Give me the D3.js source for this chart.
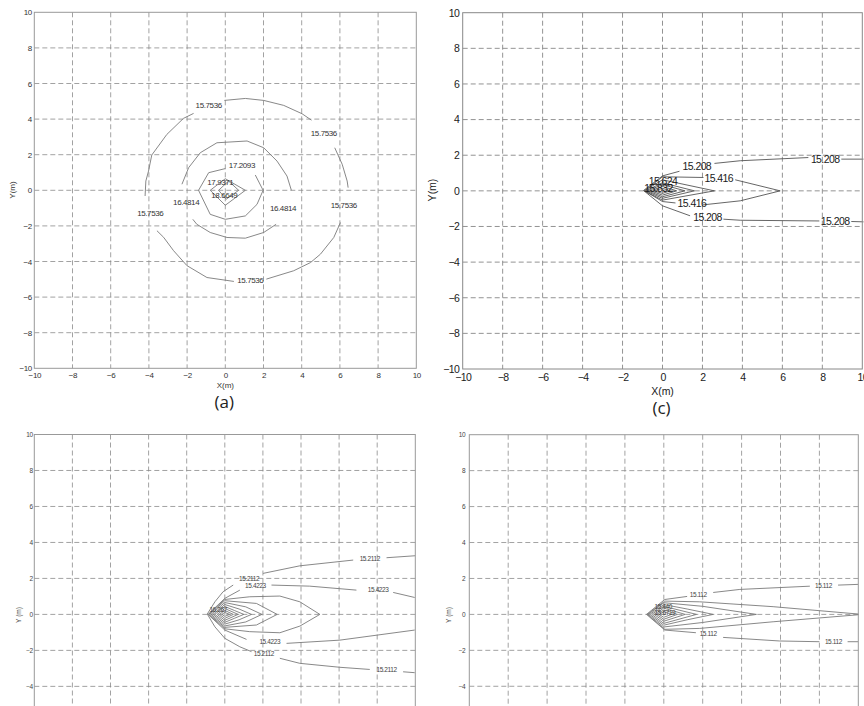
<!DOCTYPE html>
<html>
<head>
<meta charset="utf-8">
<script src="https://d3js.org/d3.v7.min.js"></script>
<style>
  body { margin: 0; background: #fff; }
  svg { display: block; }
  text { font-family: "Liberation Sans", Arial, sans-serif; }
</style>
</head>
<body>
<script>
// tick values shared by all four plots
var tickValues = [-10, -8, -6, -4, -2, 0, 2, 4, 6, 8, 10];

// (a) contour pieces, broken where clabel put its text
var aLines = [
  // 15.7536
  [[-0.05,5.05],[1.05,5.16],[2.01,5.05],[3.06,4.77],[4.02,4.30],[4.51,3.94]],
  [[5.73,2.39],[6.12,1.46],[6.38,0.52],[6.43,0.15]],
  [[6.03,-1.81],[5.68,-2.65],[4.98,-3.59],[4.46,-4.06],[3.58,-4.52],[2.15,-4.99]],
  [[0.45,-5.12],[-0.96,-4.9],[-2.01,-4.23],[-2.71,-3.39],[-3.23,-2.64],[-3.58,-2.27]],
  [[-4.2,-0.32],[-4.16,0.52],[-4.02,1.08],[-3.85,1.98],[-3.06,3.14],[-2.19,4.04],[-1.66,4.32]],
  // 16.4814
  [[-2.27,0.34],[-1.92,1.27],[-1.31,2.11],[-0.44,2.67],[1.14,2.77],[2.01,2.39],[2.71,1.64],[3.23,0.80],[3.46,0]],
  [[2.66,-1.91],[2.01,-2.37],[1.05,-2.69],[0.09,-2.65],[-0.79,-2.37],[-1.49,-1.91],[-1.70,-1.63]],
  // 17.2093
  [[1.57,0.86],[1.98,0],[1.66,-0.79],[1.05,-1.44],[0,-1.63],[-0.79,-1.35],[-1.40,0],[-0.87,0.99],[0,1.22]],
  // 17.9371
  [[0,0.65],[1.05,0],[0,-0.84],[-0.79,0],[0,0.65]],
  // 18.6649
  [[0.17,0.52],[0.7,0],[0.05,-0.5],[-0.35,0],[0.17,0.52]]
];
var aLabels = [
  [-0.87, 4.79, "15.7536"], [5.16, 3.21, "15.7536"], [6.2, -0.82, "15.7536"],
  [1.31, -5.05, "15.7536"], [-3.93, -1.27, "15.7536"],
  [3.02, -1.03, "16.4814"], [-2.05, -0.69, "16.4814"],
  [0.87, 1.40, "17.2093"],
  [-0.26, 0.43, "17.9371"], [-0.05, -0.26, "18.6649"]
];

// (c)
var cLines = [
  // 15.208
  [[10.06,1.78],[8.95,1.78]],
  [[7.3,1.87],[3.89,1.69],[2.6,1.54]],
  [[0.85,1.1],[0,0.84],[-0.95,0.02],[0,-0.84],[1.38,-1.40]],
  [[3.05,-1.59],[3.89,-1.65],[7.85,-1.69]],
  [[9.45,-1.72],[10.06,-1.74]],
  // 15.416
  [[2.0,-0.79],[3.89,-0.56],[5.89,0],[3.64,0.62]],
  [[2.05,0.75],[0,0.79],[-0.9,0],[0,-0.6],[0.65,-0.68]],
  // 15.624
  [[-0.92,0],[0,0.62],[2.6,0],[0,-0.52],[-0.92,0]],
  // 15.832 and inner ones
  [[-0.85,0],[0,0.45],[1.6,0],[0,-0.42],[-0.85,0]],
  [[-0.75,0],[0,0.35],[1.13,0],[0,-0.33],[-0.75,0]],
  [[-0.6,0],[0,0.25],[0.71,0],[0,-0.24],[-0.6,0]],
  [[-0.45,0],[0,0.14],[0.4,0],[0,-0.14],[-0.45,0]]
];
var cLabels = [
  [8.14, 1.78, "15.208"], [1.72, 1.40, "15.208"], [2.25, -1.5, "15.208"], [8.64, -1.69, "15.208"],
  [2.82, 0.69, "15.416"], [1.47, -0.71, "15.416"],
  [0.02, 0.55, "15.624"], [-0.2, 0.12, "15.832"]
];

// (d)
var dLines = [
  // 15.2112
  [[2.01,2.28],[3.94,2.70],[6.74,3.02]],
  [[8.49,3.15],[9.99,3.26]],
  [[0.44,1.63],[-0.09,1.26],[-0.52,0.70],[-0.92,0.02],[-0.52,-0.69],[0,-1.33],[0.79,-1.80],[1.40,-2.07]],
  [[2.89,-2.44],[3.94,-2.72],[6.04,-2.94],[7.61,-3.06]],
  [[9.36,-3.19],[9.97,-3.24]],
  // 15.4223
  [[2.45,1.63],[4.46,1.57],[6.91,1.35]],
  [[8.84,1.22],[9.97,0.94]],
  [[0.79,1.35],[0,0.89],[-0.88,0],[0,-0.87],[1.14,-1.39]],
  [[3.24,-1.61],[6.04,-1.43],[9.97,-0.87]],
  // closed inner levels
  [[-0.85,0],[0,0.83],[1.31,0.98],[2.89,1.02],[3.94,0.70],[4.99,0],[3.94,-0.65],[2.89,-1.02],[1.31,-0.96],[0,-0.8],[-0.85,0]],
  [[-0.8,0],[0,0.76],[1.66,0.61],[2.75,0],[1.66,-0.59],[0,-0.72],[-0.8,0]],
  [[-0.72,0],[0,0.66],[1.1,0.42],[1.95,0],[1.1,-0.42],[0,-0.64],[-0.72,0]],
  [[-0.62,0],[0,0.55],[0.75,0.3],[1.4,0],[0.75,-0.3],[0,-0.54],[-0.62,0]],
  [[-0.52,0],[0,0.44],[0.5,0.22],[1.0,0],[0.5,-0.22],[0,-0.44],[-0.52,0]],
  [[-0.4,0],[0,0.33],[0.7,0],[0,-0.33],[-0.4,0]],
  [[-0.28,0],[0,0.22],[0.45,0],[0,-0.22],[-0.28,0]],
  [[-0.15,0],[0,0.11],[0.25,0],[0,-0.11],[-0.15,0]]
];
var dLabels = [
  [7.61, 3.09, "15.2112"], [1.28, 1.96, "15.2112"], [2.05, -2.2, "15.2112"], [8.49, -3.06, "15.2112"],
  [1.61, 1.57, "15.4223"], [8.05, 1.35, "15.4223"], [2.36, -1.52, "15.4223"],
  [-0.35, 0.24, "16.267"]
];

// bottom right
var eLines = [
  // 15.112
  [[9.99,1.67],[8.96,1.63]],
  [[7.51,1.57],[3.91,1.39],[2.54,1.22]],
  [[1.2,1.0],[0.05,0.83],[-0.89,0],[0.05,-0.87],[1.65,-1.02]],
  [[3.05,-1.28],[5.96,-1.48],[8.0,-1.52]],
  [[9.45,-1.52],[9.99,-1.52]],
  // inner levels
  [[-0.85,0],[0.05,0.74],[1.85,0.70],[5.62,0.43],[10,0.02],[10,-0.02],[5.62,-0.41],[1.85,-0.78],[0.05,-0.83],[-0.85,0]],
  [[-0.8,0],[0,0.65],[2,0.45],[4.76,0],[2,-0.45],[0,-0.7],[-0.8,0]],
  [[-0.72,0],[0,0.55],[1.2,0.3],[2.54,0],[1.2,-0.3],[0,-0.6],[-0.72,0]],
  [[-0.62,0],[0,0.45],[1.68,0],[0,-0.5],[-0.62,0]],
  [[-0.5,0],[0,0.35],[1.1,0],[0,-0.38],[-0.5,0]],
  [[-0.38,0],[0,0.25],[0.7,0],[0,-0.27],[-0.38,0]],
  [[-0.25,0],[0,0.15],[0.4,0],[0,-0.16],[-0.25,0]]
];
var eLabels = [
  [8.21, 1.60, "15.112"], [1.77, 1.09, "15.112"], [2.28, -1.06, "15.112"], [8.72, -1.52, "15.112"],
  [-0.03, 0.42, "15.440"], [0.06, 0.09, "15.6719"]
];

var W = 864, H = 706;
var svg = d3.select("body").append("svg")
  .attr("width", W)
  .attr("height", H);

function drawPanel(p) {
  var g = svg.append("g");
  var x = d3.scaleLinear().domain([-10, 10]).range([p.left, p.right]);
  var y = d3.scaleLinear().domain([-10, 10]).range([p.bottom, p.top]);
  var inner = tickValues.slice(1, -1);

  // dashed grid
  g.selectAll(".vg").data(inner).enter().append("line")
    .attr("x1", function(d) { return x(d); }).attr("x2", function(d) { return x(d); })
    .attr("y1", p.top).attr("y2", p.bottom)
    .attr("stroke", p.grid).attr("stroke-width", 0.8)
    .attr("stroke-dasharray", p.dash);
  g.selectAll(".hg").data(inner).enter().append("line")
    .attr("y1", function(d) { return y(d); }).attr("y2", function(d) { return y(d); })
    .attr("x1", p.left).attr("x2", p.right)
    .attr("stroke", p.grid).attr("stroke-width", 0.8)
    .attr("stroke-dasharray", p.dash);

  // contour lines
  var line = d3.line().x(function(d) { return x(d[0]); }).y(function(d) { return y(d[1]); });
  g.selectAll(".ct").data(p.lines).enter().append("path")
    .attr("d", line)
    .attr("fill", "none")
    .attr("stroke", p.lineColor)
    .attr("stroke-width", 0.9)
    .attr("stroke-linejoin", "round");

  // frame
  g.append("rect")
    .attr("x", p.left).attr("y", p.top)
    .attr("width", p.right - p.left).attr("height", p.bottom - p.top)
    .attr("fill", "none").attr("stroke", p.frame).attr("stroke-width", 1);

  // contour labels
  g.selectAll(".cl").data(p.labels).enter().append("text")
    .attr("x", function(d) { return x(d[0]); })
    .attr("y", function(d) { return y(d[1]); })
    .attr("dy", "0.35em")
    .attr("text-anchor", "middle")
    .style("font-size", p.labelSize + "px")
    .style("letter-spacing", p.spacing + "px")
    .attr("fill", p.textColor)
    .text(function(d) { return d[2]; });

  // tick labels, only those that land inside the page
  var yTicks = tickValues.filter(function(d) { return y(d) < H - 4; });
  var axes = [];
  axes.push(g.append("g").attr("transform", "translate(" + p.left + ",0)")
    .call(d3.axisLeft(y).tickValues(yTicks).tickSize(0).tickPadding(p.yPad)));
  if (p.bottom < H) {
    axes.push(g.append("g").attr("transform", "translate(0," + p.bottom + ")")
      .call(d3.axisBottom(x).tickValues(tickValues).tickSize(0).tickPadding(p.xPad)));
  }
  axes.forEach(function(a) {
    a.select(".domain").remove();
    a.selectAll("text")
      .style("font-family", '"Liberation Sans", Arial, sans-serif')
      .style("font-size", p.tickSize + "px")
      .style("letter-spacing", p.spacing + "px")
      .attr("fill", p.textColor);
  });

  if (p.xTitle) {
    g.append("text")
      .attr("x", (p.left + p.right) / 2).attr("y", p.xTitleY)
      .attr("text-anchor", "middle")
      .style("font-size", p.tickSize + "px")
      .attr("fill", p.textColor)
      .text(p.xTitle);
  }
  g.append("text")
    .attr("transform", "translate(" + p.yTitleX + "," + p.yTitleY + ") rotate(-90)")
    .attr("text-anchor", "middle")
    .attr("dy", "0.35em")
    .style("font-size", p.tickSize + "px")
    .attr("fill", p.textColor)
    .text(p.yTitle);
  if (p.caption) {
    g.append("text")
      .attr("x", (p.left + p.right) / 2 - 1).attr("y", p.captionY)
      .attr("text-anchor", "middle")
      .style("font-family", '"Open Sans", "Noto Sans", sans-serif')
      .style("font-size", "17px")
      .attr("fill", "#222")
      .text(p.caption);
  }
}

drawPanel({
  left: 34.3, right: 416.3, top: 12.3, bottom: 368.3,
  lines: aLines, labels: aLabels,
  grid: "#8a8a8a", dash: "5,3", frame: "#999", lineColor: "#7a7a7a", textColor: "#333",
  tickSize: 8, labelSize: 8, spacing: -0.4, yPad: 2.5, xPad: 4,
  xTitle: "X(m)", xTitleY: 388, yTitle: "Y(m)", yTitleX: 12, yTitleY: 190,
  caption: "(a)", captionY: 408
});

drawPanel({
  left: 462.7, right: 862.3, top: 12.7, bottom: 369,
  lines: cLines, labels: cLabels,
  grid: "#777", dash: "5,3", frame: "#888", lineColor: "#555", textColor: "#1a1a1a",
  tickSize: 10.5, labelSize: 10.5, spacing: -0.6, yPad: 3.5, xPad: 4.5,
  xTitle: "X(m)", xTitleY: 394.5, yTitle: "Y(m)", yTitleX: 432.5, yTitleY: 190,
  caption: "(c)", captionY: 414
});

drawPanel({
  left: 34.3, right: 415.3, top: 434.5, bottom: 794.3,
  lines: dLines, labels: dLabels,
  grid: "#8a8a8a", dash: "5,3", frame: "#999", lineColor: "#7a7a7a", textColor: "#444",
  tickSize: 6.5, labelSize: 6.5, spacing: -0.4, yPad: 1.5, xPad: 3,
  yTitle: "Y (m)", yTitleX: 18.5, yTitleY: 615
});

drawPanel({
  left: 469.3, right: 858.3, top: 434.7, bottom: 794.1,
  lines: eLines, labels: eLabels,
  grid: "#8a8a8a", dash: "5,3", frame: "#999", lineColor: "#7a7a7a", textColor: "#444",
  tickSize: 6.5, labelSize: 6.5, spacing: -0.4, yPad: 4, xPad: 3,
  yTitle: "Y (m)", yTitleX: 449, yTitleY: 615
});
</script>
</body>
</html>
